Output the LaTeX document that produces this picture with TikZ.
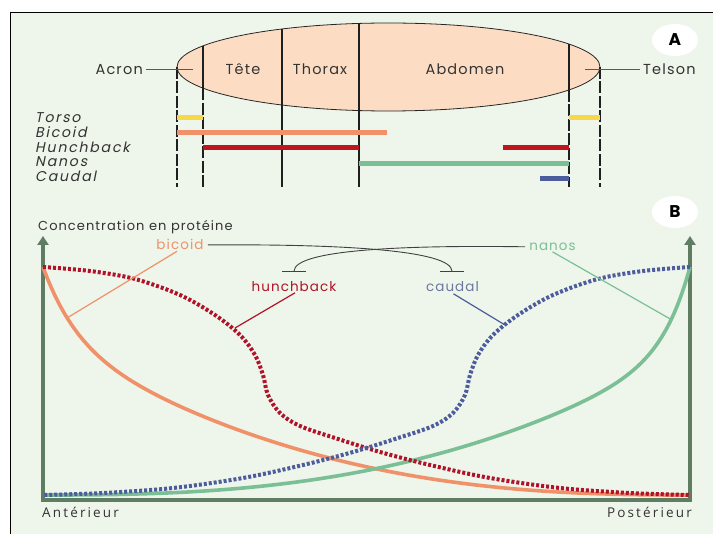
\documentclass[tikz,border=0pt]{standalone}
\usepackage{fontspec}
\setmainfont{Poppins}
\newfontfamily\geo[LetterSpace=8]{Poppins}
\newfontfamily\geoit[LetterSpace=12,FakeSlant=0.2]{Poppins}
\newfontfamily\hum[LetterSpace=16]{Open Sans}
\usetikzlibrary{arrows.meta,shapes.geometric}

\definecolor{bgc}{HTML}{EEF5EA}
\definecolor{peach}{HTML}{FCDDC4}
\definecolor{ink}{HTML}{333333}
\definecolor{axisg}{HTML}{5E7D62}
\definecolor{bicc}{HTML}{F0916A}
\definecolor{hunc}{HTML}{B0122A}
\definecolor{nanc}{HTML}{7BBF96}
\definecolor{cauc}{HTML}{4D5C9C}
\definecolor{caulab}{HTML}{6D779F}
\definecolor{torc}{HTML}{F8D849}
\definecolor{hunbar}{HTML}{C0141E}

\begin{document}
\begin{tikzpicture}[x=1pt,y=-1pt,
  lab/.style={inner sep=0pt, text=ink, font=\geo\fontsize{14.5}{16}\selectfont},
  rowlab/.style={inner sep=0pt, anchor=base west, text=ink, font=\geoit\fontsize{14.2}{15}\selectfont},
  curvelab/.style={inner sep=0pt, anchor=base, font=\geo\fontsize{13.5}{15}\selectfont},
  axlab/.style={inner sep=0pt, text=ink, font=\hum\fontsize{13.5}{15}\selectfont},
  seg/.style={draw=black!88, line width=1.1pt},
  segdash/.style={seg, dash pattern=on 12pt off 2.5pt},
  ptr/.style={draw=black!65, line width=1pt},
  bar/.style={line width=5pt},
  thin/.style={line width=1.2pt},
  solidcurve/.style={line width=3.6pt},
  dotcurve/.style={line width=4pt, dash pattern=on 3pt off 2pt, smooth, tension=0.55},
  inh/.style={draw=black!75, line width=0.9pt, -{Bar[width=24pt, line width=0.9pt]}},
  badge/.style={ellipse, fill=white, minimum width=46pt, minimum height=32pt, inner sep=0pt,
    font=\fontsize{17}{18}\selectfont\bfseries}
]
\useasboundingbox (0,0) rectangle (713,534);
\fill[white] (0,0) rectangle (713,534);
\fill[bgc] (10,13) rectangle (713,534);
\draw[line width=1pt] (10,534) -- (10,13) -- (713,13);

% ---------- A: embryo and expression domains ----------
\draw[fill=peach, draw=black!85, line width=0.8pt] (388.5,67) ellipse [x radius=211.5pt, y radius=44pt];

\draw[segdash] (177,67) -- (177,187);
\draw[seg] (203,45.9) -- (203,88.1);
\draw[segdash] (203,88.1) -- (203,187);
\draw[seg] (282,29) -- (282,187);
\draw[seg] (359,23.4) -- (359,187);
\draw[seg] (569,44.1) -- (569,89.9);
\draw[segdash] (569,89.9) -- (569,187);
\draw[segdash] (600,67) -- (600,187);

\node[lab, anchor=base east] (acron) at (143,74.5) {Acron};
\node[lab, anchor=base west] (telson) at (643,74.5) {Telson};
\node[lab, anchor=base] (tete) at (243,74.5) {Tête};
\node[lab, anchor=base] (thorax) at (320,74.5) {Thorax};
\node[lab, anchor=base] (abdomen) at (465,74.5) {Abdomen};
\coordinate (acronpt) at (193,70);
\coordinate (telsonpt) at (585,70);
\draw[ptr] (acron.east |- acronpt) ++(3,0) -- (acronpt);
\draw[ptr] (telsonpt) -- ([xshift=-3pt]telson.west |- telsonpt);

\node[rowlab] (torso) at (35,122.5) {Torso};
\node[rowlab] (bicoidrow) at (35,137.3) {Bicoid};
\node[rowlab] (hunchrow) at (35,152.2) {Hunchback};
\node[rowlab] (nanosrow) at (35,167) {Nanos};
\node[rowlab] (caudalrow) at (35,182) {Caudal};

\draw[bar, torc] (177,118) -- (203,118);
\draw[bar, torc] (569,118) -- (600,118);
\draw[bar, bicc] (177,133) -- (387,133);
\draw[bar, hunbar] (203,148) -- (359,148);
\draw[bar, hunbar] (503,148) -- (569,148);
\draw[bar, nanc] (359,163.5) -- (569,163.5);
\draw[bar, cauc] (540,178.5) -- (569,178.5);

\node[badge] (badgeA) at (675,40) {A};

% ---------- B: protein gradients ----------
\node[badge] (badgeB) at (675,212) {B};

\node[axlab, anchor=base west, font=\geo\fontsize{13}{15}\selectfont] (conc) at (38,230.5) {Concentration en protéine};
\node[axlab, anchor=base west] (ant) at (42,518) {Antérieur};
\node[axlab, anchor=base east] (post) at (692,518) {Postérieur};

\draw[axisg, line width=4pt, line join=miter,
  {Triangle[width=11pt,length=9pt]}-{Triangle[width=11pt,length=9pt]}]
  (43,236) -- (43,500) -- (690,500) -- (690,236);

% bicoid (from the anterior pole) and nanos (from the posterior pole)
\draw[bicc, solidcurve, domain=0:0.998, samples=160, variable=\u]
  plot ({43+647*\u}, {495-228*(0.7*(1-\u)^2.5+0.3*(1-\u)^20)});
\draw[nanc, solidcurve, domain=0:0.998, samples=160, variable=\u]
  plot ({690-647*\u}, {495-228*(0.65*(1-\u)^2.6+0.35*(1-\u)^25)});

% hunchback and caudal (dotted)
\draw[hunc, dotcurve] plot coordinates {(43,267) (90,271) (135,279) (180,295) (215,315)
  (240,335) (255,355) (263,375) (268,395) (280,413) (300,426) (335,438) (380,452)
  (430,465) (490,478) (560,488) (630,493) (690,495)};
\draw[cauc, dotcurve] plot coordinates {(690,267) (643,271) (598,279) (553,295) (518,315)
  (493,335) (478,355) (470,375) (465,395) (453,413) (433,426) (398,438) (353,452)
  (303,465) (243,478) (173,488) (103,493) (43,495)};

% curve labels
\node[curvelab, text=bicc] (bicoid) at (180,250) {bicoid};
\node[curvelab, text=hunc] (hunch) at (294,291.5) {hunchback};
\node[curvelab, text=caulab] (caudal) at (452.5,291.5) {caudal};
\node[curvelab, text=nanc] (nanos) at (552.5,250.5) {nanos};

\coordinate (bicpt) at (67,318);
\coordinate (hunpt) at (235,328);
\coordinate (caupt) at (505,325);
\coordinate (nanpt) at (672,320);
\draw[bicc, thin] ([xshift=-3pt,yshift=-1pt]bicoid.south) -- (bicpt);
\draw[hunc, thin] ([xshift=1pt,yshift=-1pt]hunch.south) -- (hunpt);
\draw[cauc, thin] ([xshift=1pt,yshift=-2pt]caudal.south) -- (caupt);
\draw[nanc, thin] ([yshift=-1pt]nanos.south) -- (nanpt);

% repression links
\coordinate (cauT) at (452,272);
\coordinate (hunT) at (294,272);
\draw[inh] ([xshift=4pt]bicoid.east) .. controls (340,244) and (452,250) .. (cauT);
\draw[inh] ([xshift=-4pt]nanos.west) .. controls (400,245) and (294,250) .. (hunT);
\end{tikzpicture}
\end{document}
